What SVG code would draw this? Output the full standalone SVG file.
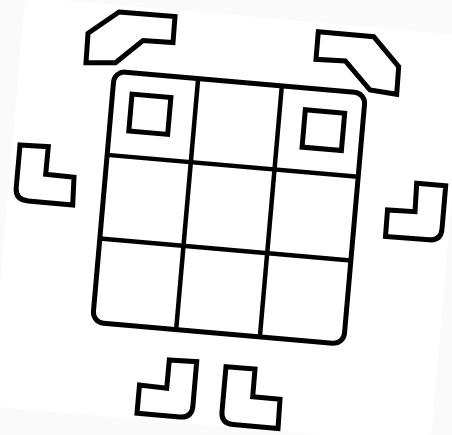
<svg xmlns="http://www.w3.org/2000/svg" width="452" height="435" viewBox="0 0 452 435">
  <style>
    .ln { fill: none; stroke: #000; stroke-width: 5; stroke-linejoin: miter; }
    .gr { fill: none; stroke: #000; stroke-width: 4.5; }
  </style>
  <rect x="0" y="0" width="452" height="435" fill="#fafafa"/>
  <polygon points="25.3,-3 466.1,35.5 430.3,444.7 -10.5,406.1" fill="#ffffff"/>

  <g id="body" transform="rotate(5 229 207.7)">
    <rect class="ln" x="103" y="81.7" width="252" height="252" rx="11"/>
    <g class="gr">
      <line x1="187" y1="81.7" x2="187" y2="333.7"/>
      <line x1="271" y1="81.7" x2="271" y2="333.7"/>
      <line x1="103" y1="165.7" x2="355" y2="165.7"/>
      <line x1="103" y1="249.7" x2="355" y2="249.7"/>
    </g>
    <rect id="eye-left" class="ln" x="122.5" y="103" width="39" height="37"/>
    <rect id="eye-right" class="ln" x="296.5" y="103.5" width="39.5" height="37.5"/>
  </g>

  <g id="ear-left">
    <path class="ln" d="M119,12 L175,16.5 L173,42.5 L143,40.5 L115.5,62.8 L86,62.7 L88,33.3 Z"/>
  </g>
  <g id="ear-right">
    <path class="ln" d="M318.3,31.7 L373.7,36.7 L398.7,66.7 L396.7,94.3 L370,90 L345.3,61 L316,59.3 Z"/>
  </g>
  <g id="arm-left">
    <path class="ln" d="M20,145 L48.3,146.7 L45.7,174.3 L74,177.3 L72.7,205 L28,200.9 Q15.2,199.8 16.2,188 Z"/>
  </g>
  <g id="arm-right">
    <path class="ln" d="M416.7,183.3 L445.7,185.7 L442,229 Q440.9,240.8 429,239.8 L385.5,236.5 L387.5,210 L415,211.7 Z"/>
  </g>
  <g id="leg-left">
    <path class="ln" d="M169.3,360 L196.7,361.7 L192.9,406 Q191.8,418 179.8,417 L137,413.3 L139.5,385 L166.7,388.3 Z"/>
  </g>
  <g id="leg-right">
    <path class="ln" d="M226,366.7 L255,369 L252.7,396.7 L280,399.3 L278,428.5 L233,424.5 Q221,423.5 222,411.5 Z"/>
  </g>
</svg>
